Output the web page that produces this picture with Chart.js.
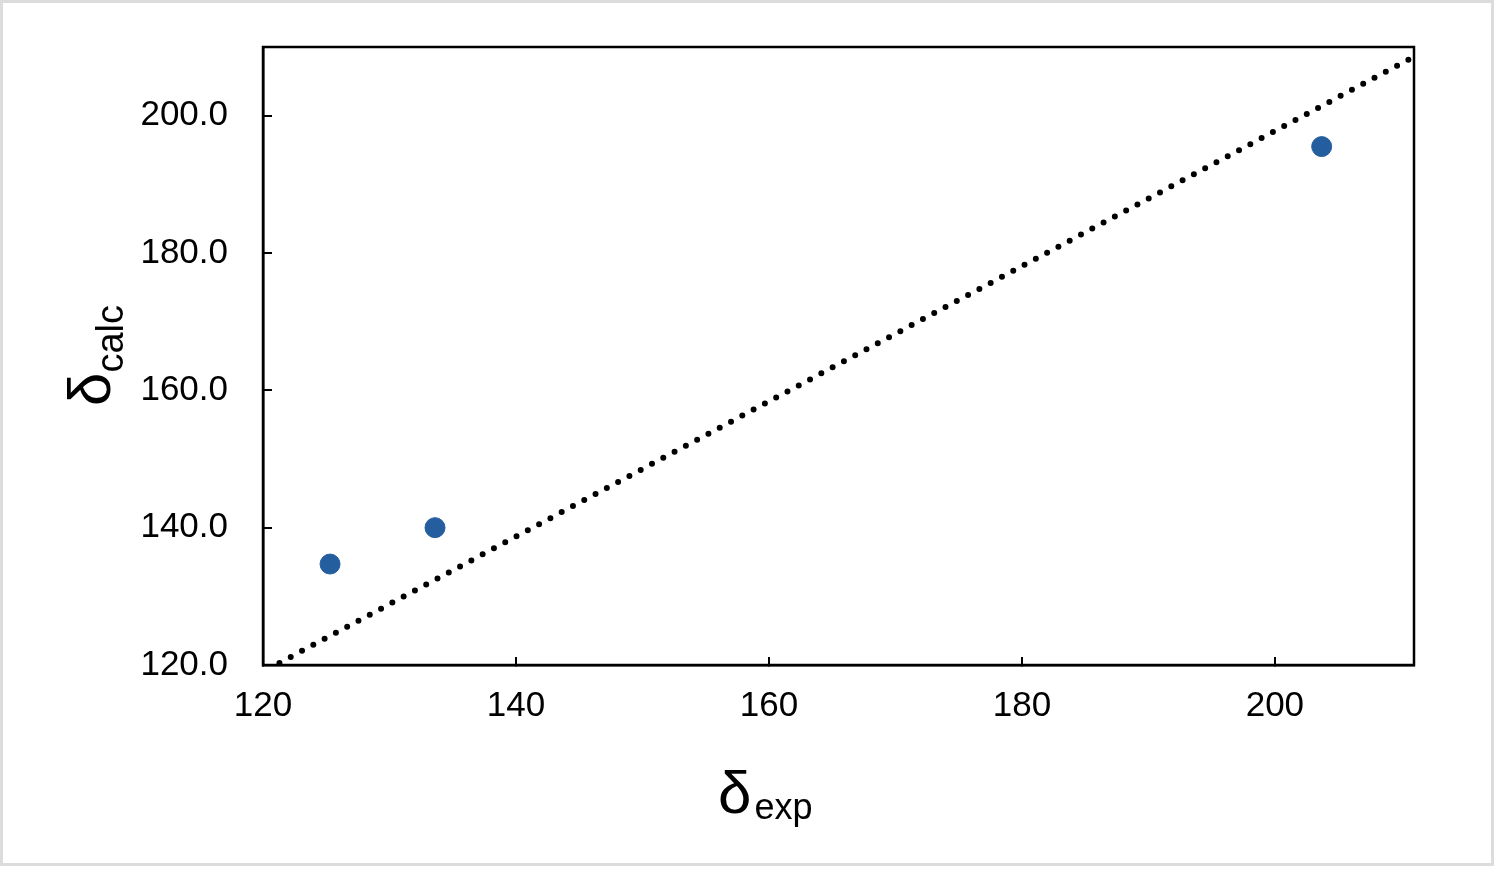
<!DOCTYPE html>
<html>
<head>
<meta charset="utf-8">
<script src="https://cdn.jsdelivr.net/npm/chart.js@4.4.1/dist/chart.umd.min.js"></script>
<style>
body { margin: 0; background: #fff; }
#frame { position: absolute; left: 0; top: 0; width: 1494px; height: 866px; box-sizing: border-box; border: 3px solid #dcdcdc; }
canvas { position: absolute; left: 0; top: 0; }
.axTitle { position: absolute; font-family: "Liberation Sans", Arial, sans-serif; font-size: 60px; line-height: 1; white-space: nowrap; color: #000; }
.axTitle span { position: relative; }
#xTitle { left: 718px; top: 763px; }
#xTitle span { font-size: 36px; top: 6px; margin-left: 3px; }
#yTitle { left: 60px; top: 406px; transform: rotate(-90deg); transform-origin: left top; }
#yTitle span { font-size: 38px; top: 13px; }
</style>
</head>
<body>
<div id="frame"></div>
<canvas id="deltaChart" width="1500" height="873"></canvas>
<div class="axTitle" id="xTitle">δ<span>exp</span></div>
<div class="axTitle" id="yTitle">δ<span>calc</span></div>
<script>
// measured vs calculated shifts
const expShift = [125.3, 133.6, 203.7];
const calcShift = [134.7, 140.0, 195.5];
// dotted reference line, two ends
const lineX = [121.3, 210.6];
const lineY = [120.3, 208.2];
const xTicks = [120, 140, 160, 180, 200];
const yTicks = [120, 140, 160, 180, 200];

const tickFont = { family: '"Liberation Sans", Arial, sans-serif', size: 35 };

// black frame round the plot area
const boxPlugin = {
    id: 'box',
    afterDraw(chart) {
        const a = chart.chartArea;
        const ctx = chart.ctx;
        ctx.save();
        ctx.strokeStyle = '#000';
        ctx.lineWidth = 2.5;
        ctx.strokeRect(a.left, a.top, a.right - a.left, a.bottom - a.top);
        ctx.restore();
    }
};

const config = {
    type: 'scatter',
    data: {
        datasets: [{
                label: 'points',
                data: expShift.map((x, i) => ({ x: x, y: calcShift[i] })),
                backgroundColor: '#255e9e',
                borderColor: '#255e9e',
                pointRadius: 10,
                order: 1
            },
            {
                label: 'line',
                type: 'line',
                data: lineX.map((x, i) => ({ x: x, y: lineY[i] })),
                borderColor: '#000',
                borderWidth: 6,
                borderDash: [0, 12.8],
                borderCapStyle: 'round',
                pointRadius: 0,
                fill: false,
                order: 2
            }
        ]
    },
    options: {
        responsive: false,
        animation: false,
        layout: { padding: { top: 47, right: 86, left: 0, bottom: 0 } },
        plugins: {
            legend: { display: false },
            tooltip: { enabled: false }
        },
        scales: {
            x: {
                type: 'linear',
                min: 120,
                max: 211,
                afterBuildTicks: s => { s.ticks = xTicks.map(v => ({ value: v })); },
                afterFit: s => { s.height = 208; },
                border: { color: '#000', width: 2.5 },
                grid: { drawOnChartArea: false, drawTicks: true, tickLength: -8, color: '#000', lineWidth: 2 },
                ticks: { color: '#000', font: tickFont, padding: 28, maxRotation: 0 }
            },
            y: {
                type: 'linear',
                min: 120,
                max: 210,
                afterBuildTicks: s => { s.ticks = yTicks.map(v => ({ value: v })); },
                afterFit: s => { s.width = 263; s.paddingTop = 0; s.paddingBottom = 0; },
                border: { color: '#000', width: 2.5 },
                grid: { drawOnChartArea: false, drawTicks: true, tickLength: -9, color: '#000', lineWidth: 2 },
                ticks: { color: '#000', font: tickFont, padding: 44, callback: v => Number(v).toFixed(1) }
            }
        }
    },
    plugins: [boxPlugin]
};

new Chart('deltaChart', config);
</script>
</body>
</html>
